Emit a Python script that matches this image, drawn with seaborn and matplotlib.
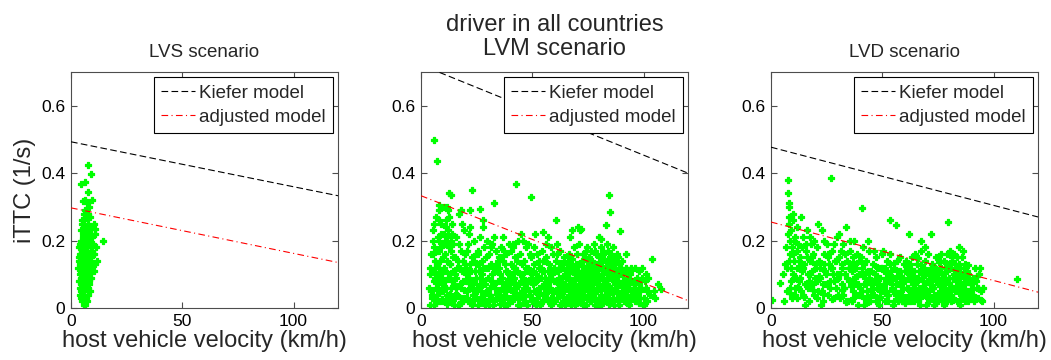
import matplotlib
matplotlib.use("Agg")
import matplotlib.pyplot as plt
import seaborn as sns
import pandas as pd

# ---------------------------------------------------------------- data
speed_ticks = [0, 50, 100]
ittc_ticks = [0, 0.2, 0.4, 0.6]
ittc_tick_labels = ["0", "0.2", "0.4", "0.6"]

titles = ["LVS scenario", "driver in all countries\nLVM scenario", "LVD scenario"]

# model lines: iTTC at host speeds 0 and 120 km/h
model_speed = [0, 120]
lvs_kiefer = [0.493, 0.333]
lvs_adjusted = [0.297, 0.135]
lvm_kiefer = [0.721, 0.400]
lvm_adjusted = [0.333, 0.022]
lvd_kiefer = [0.477, 0.270]
lvd_adjusted = [0.255, 0.047]

# observed (host speed km/h, iTTC 1/s) — LVS scenario
lvs_points = [
    (3.2, .12), (3.5, .08), (3.8, .15), (4.0, .04), (4.1, .19), (4.3, .11), (4.4, .23), (4.6, .07),
    (4.7, .14), (4.9, .02), (5.0, .17), (5.1, .26), (5.2, .09), (5.3, .12), (5.4, .21), (5.5, .05),
    (5.6, .16), (5.7, .28), (5.8, .10), (5.9, .01), (6.0, .19), (6.1, .13), (6.2, .24), (6.3, .07),
    (6.4, .15), (6.5, .03), (6.6, .20), (6.7, .11), (6.8, .27), (6.9, .17), (7.0, .06), (7.1, .22),
    (7.2, .13), (7.3, .09), (7.4, .18), (7.5, .25), (7.6, .04), (7.7, .14), (7.8, .20), (7.9, .10),
    (8.0, .16), (8.2, .23), (8.3, .07), (8.5, .12), (8.6, .19), (8.8, .15), (9.0, .21), (9.2, .09),
    (9.4, .17), (9.6, .24), (9.8, .13), (10.0, .19), (10.3, .11), (10.5, .16), (10.8, .22), (11.2, .18),
    (11.5, .14), (3.6, .18), (3.9, .10), (4.2, .06), (4.5, .16), (4.8, .12), (5.0, .08), (5.3, .03),
    (5.6, .22), (5.9, .14), (6.2, .09), (6.5, .18), (6.8, .12), (7.1, .02), (7.4, .08), (7.7, .23),
    (8.1, .12), (8.4, .27), (8.7, .09), (9.1, .14), (9.5, .19), (4.3, .20), (4.9, .25), (5.4, .15),
    (6.0, .04), (6.6, .14), (7.2, .17), (7.8, .06), (8.9, .11), (9.9, .16), (10.6, .13), (4.6, .10),
    (5.2, .19), (5.8, .06), (6.4, .21), (7.0, .12), (7.6, .28), (8.2, .15), (4.0, .13), (5.1, .13),
    (6.1, .16), (7.3, .15), (8.6, .05), (3.4, .14), (4.4, .09), (5.5, .20), (6.7, .08), (7.9, .19),
    (9.3, .21), (6.3, .29), (5.7, .24), (8.0, .30), (7.0, .31), (6.2, .32), (4.7, .03), (5.9, .02),
    (6.4, .01), (7.7, .424), (8.9, .396), (4.4, .369), (6.5, .373), (7.7, .345), (5.4, .318),
    (9.6, .32), (14.6, .20), (11.0, .235), (10.5, .25),
    (4.5, .13), (5.0, .11), (5.5, .09), (6.0, .07), (6.5, .11), (7.0, .09), (7.5, .13), (8.0, .08),
    (5.2, .16), (6.3, .18), (7.3, .21), (4.8, .20), (5.8, .04), (6.9, .03), (6.1, .10), (5.6, .13),
    (7.8, .16), (8.3, .19), (4.1, .16), (9.0, .17), (6.6, .23), (5.3, .07), (7.1, .06), (4.6, .05),
    (6.0, .26), (7.4, .27), (5.7, .18), (6.8, .15), (8.8, .22), (5.0, .14),
]

# LVM scenario
lvm_points = [
    (3.5, .06), (4.2, .10), (4.8, .03), (4.4, .16), (3.9, .12), (4.6, .05), (4.1, .01),
    (5.2, .23), (5.8, .18), (6.1, .09), (6.4, .14), (6.9, .27), (7.2, .04), (7.6, .21), (8.0, .12),
    (8.3, .17), (8.7, .02), (9.1, .25), (9.4, .07), (9.8, .15), (5.5, .11), (6.7, .06), (7.9, .29),
    (8.5, .10), (9.6, .19), (5.9, .01), (7.1, .13), (8.9, .22), (6.3, .03), (9.2, .05), (7.4, .08),
    (8.1, .26), (5.6, .16), (9.9, .11),
    (10.2, .30), (10.6, .20), (11.0, .08), (11.3, .24), (11.7, .14), (12.1, .03), (12.4, .18),
    (12.8, .27), (13.2, .10), (13.5, .06), (13.9, .22), (14.3, .15), (14.7, .01), (10.4, .12),
    (11.5, .04), (12.0, .29), (12.6, .09), (13.7, .17), (14.1, .25), (14.9, .07), (10.9, .16),
    (11.9, .21), (13.0, .13), (14.5, .19), (10.1, .05), (12.9, .02), (11.2, .26),
    (15.3, .10), (15.8, .21), (16.2, .04), (16.7, .14), (17.1, .28), (17.5, .07), (18.0, .17),
    (18.4, .11), (18.9, .02), (19.3, .23), (19.7, .13), (15.6, .06), (16.9, .19), (17.8, .03),
    (18.6, .25), (19.1, .08), (16.4, .12), (19.9, .16), (15.1, .15), (17.3, .01),
    (20.3, .12), (20.8, .05), (21.2, .19), (21.6, .09), (22.1, .24), (22.5, .02), (22.9, .15),
    (23.4, .07), (23.8, .20), (24.2, .11), (24.7, .03), (20.6, .17), (21.9, .13), (23.1, .01),
    (24.5, .16), (22.7, .06), (21.4, .22), (24.9, .09), (20.1, .08), (23.6, .14),
    (25.2, .06), (25.7, .17), (26.1, .11), (26.6, .21), (27.0, .03), (27.5, .14), (27.9, .08),
    (28.3, .18), (28.8, .01), (29.2, .12), (29.6, .05), (25.9, .13), (26.8, .02), (28.0, .24),
    (29.0, .15), (27.2, .10), (29.8, .20), (26.3, .07), (28.5, .04), (25.4, .16),
    (30.2, .09), (30.7, .16), (31.1, .04), (31.6, .13), (32.0, .19), (32.4, .07), (32.9, .02),
    (33.3, .11), (33.8, .17), (34.2, .05), (34.7, .14), (30.4, .01), (31.9, .10), (33.0, .21),
    (34.4, .08), (31.3, .18), (32.6, .12), (33.6, .03), (34.9, .15), (30.9, .06),
    (35.1, .12), (35.6, .04), (36.0, .18), (36.5, .09), (36.9, .14), (37.4, .01), (37.8, .07),
    (38.3, .16), (38.7, .11), (39.2, .03), (39.6, .19), (35.4, .08), (36.7, .21), (37.6, .13),
    (38.9, .06), (36.2, .02), (39.4, .10), (35.8, .15), (38.1, .05), (37.1, .17),
    (40.2, .06), (40.6, .13), (41.1, .02), (41.5, .18), (42.0, .09), (42.4, .15), (42.9, .04),
    (43.3, .11), (43.8, .20), (44.2, .07), (44.7, .01), (40.9, .10), (41.8, .05), (43.0, .14),
    (44.4, .16), (42.2, .12), (43.6, .03), (40.4, .17), (44.9, .08), (41.3, .19),
    (45.2, .10), (45.7, .03), (46.1, .14), (46.6, .07), (47.0, .18), (47.5, .01), (47.9, .12),
    (48.4, .05), (48.8, .16), (49.3, .09), (49.7, .02), (45.5, .13), (46.3, .06), (47.7, .08),
    (48.6, .11), (49.5, .15), (46.9, .04), (45.9, .20), (48.1, .19), (47.2, .12),
    (50.2, .07), (50.6, .13), (51.1, .02), (51.5, .10), (52.0, .16), (52.4, .05), (52.9, .12),
    (53.3, .01), (53.8, .09), (54.2, .17), (54.7, .04), (50.9, .18), (51.8, .08), (53.0, .14),
    (54.4, .11), (52.2, .03), (53.6, .06), (50.4, .11), (54.9, .14), (51.3, .22),
    (55.2, .11), (55.7, .04), (56.1, .15), (56.6, .08), (57.0, .02), (57.5, .13), (57.9, .06),
    (58.4, .18), (58.8, .10), (59.3, .03), (59.7, .12), (55.5, .07), (56.3, .19), (57.7, .09),
    (58.6, .01), (59.5, .16), (56.9, .05), (55.9, .14), (58.1, .11), (57.2, .21),
    (60.2, .08), (60.6, .14), (61.1, .03), (61.5, .11), (62.0, .06), (62.4, .17), (62.9, .01),
    (63.3, .09), (63.8, .13), (64.2, .05), (64.7, .10), (60.9, .19), (61.8, .07), (63.0, .04),
    (64.4, .15), (62.2, .12), (63.6, .02), (60.4, .05), (64.9, .07), (61.3, .16), (62.7, .09),
    (64.0, .12),
    (65.2, .06), (65.7, .12), (66.1, .02), (66.6, .09), (67.0, .15), (67.5, .04), (67.9, .11),
    (68.4, .07), (68.8, .18), (69.3, .01), (69.7, .13), (65.5, .10), (66.3, .16), (67.7, .08),
    (68.6, .03), (69.5, .05), (66.9, .21), (65.9, .14), (68.1, .12), (67.2, .06), (69.0, .09),
    (66.5, .04),
    (70.2, .09), (70.6, .04), (71.1, .13), (71.5, .07), (72.0, .02), (72.4, .11), (72.9, .16),
    (73.3, .06), (73.8, .10), (74.2, .01), (74.7, .14), (70.9, .19), (71.8, .05), (73.0, .08),
    (74.4, .12), (72.2, .03), (73.6, .15), (70.4, .11), (74.9, .06), (71.3, .23), (72.7, .09),
    (73.4, .04), (70.8, .07), (74.0, .17),
    (75.2, .05), (75.7, .11), (76.1, .08), (76.6, .02), (77.0, .14), (77.5, .06), (77.9, .10),
    (78.4, .03), (78.8, .16), (79.3, .08), (79.7, .12), (75.5, .15), (76.3, .04), (77.7, .19),
    (78.6, .09), (79.5, .01), (76.9, .12), (75.9, .07), (78.1, .13), (77.2, .03), (79.0, .05),
    (76.5, .17), (78.3, .11), (75.3, .09),
    (80.2, .07), (80.6, .13), (81.1, .04), (81.5, .10), (82.0, .16), (82.4, .02), (82.9, .08),
    (83.3, .12), (83.8, .05), (84.2, .17), (84.7, .09), (80.9, .18), (81.8, .06), (83.0, .14),
    (84.4, .03), (82.2, .11), (83.6, .07), (80.4, .01), (84.9, .12), (81.3, .15), (82.7, .04),
    (83.4, .19), (81.6, .09), (84.1, .06),
    (85.2, .06), (85.7, .11), (86.1, .03), (86.6, .08), (87.0, .14), (87.5, .05), (87.9, .10),
    (88.4, .02), (88.8, .12), (89.3, .07), (89.7, .04), (85.5, .16), (86.3, .13), (87.7, .08),
    (88.6, .15), (89.5, .10), (86.9, .01), (85.9, .09), (88.1, .05), (87.2, .11), (89.0, .13),
    (86.5, .18),
    (90.2, .05), (90.7, .10), (91.1, .02), (91.6, .08), (92.0, .12), (92.5, .04), (92.9, .07),
    (93.4, .01), (93.8, .10), (94.3, .05), (94.7, .08), (90.5, .14), (91.9, .06), (93.1, .03),
    (94.1, .11), (92.3, .16),
    (95.2, .03), (95.8, .07), (96.3, .02), (96.9, .09), (97.4, .05), (97.9, .11), (98.5, .03),
    (99.0, .06), (99.6, .01), (96.0, .12), (98.2, .08), (99.4, .12),
    (100.3, .03), (100.9, .06), (101.6, .02), (102.2, .09), (102.8, .04), (103.6, .146),
    (104.5, .05), (105.3, .03), (106.5, .07), (107.7, .055), (101.2, .10),
    (6.0, .499), (7.4, .435), (12.8, .342), (13.4, .336), (23.1, .349), (32.9, .31), (42.5, .367),
    (49.5, .329), (60.7, .262), (84.5, .335), (85.0, .286), (83.0, .245), (89.5, .229),
    (26.3, .293), (22.1, .29), (8.3, .306), (11.5, .30), (18.0, .29), (70.5, .24), (72.0, .235),
    (68.0, .23), (80.0, .21), (81.0, .205), (55.0, .225), (45.0, .22), (28.0, .26),
]

# LVM scenario, crowded low-iTTC band
lvm_points_low = [
    (5.0, .04), (5.7, .08), (6.2, .12), (6.8, .02), (7.3, .10), (7.8, .06), (8.4, .14), (8.9, .05),
    (9.5, .09), (10.0, .02), (10.7, .11), (11.4, .06), (12.2, .09), (12.9, .13), (13.6, .03),
    (14.4, .11), (15.2, .04), (15.9, .09), (16.6, .01), (17.4, .12), (18.1, .06), (18.8, .14),
    (19.5, .03),
    (20.4, .10), (21.1, .02), (21.8, .06), (22.6, .11), (23.3, .04), (24.0, .08), (24.8, .13),
    (25.5, .01), (26.3, .09), (27.1, .05), (27.8, .12), (28.6, .07), (29.4, .02), (30.1, .12),
    (30.9, .04), (31.7, .08), (32.5, .01), (33.2, .06), (34.0, .13), (34.8, .03), (35.6, .10),
    (36.4, .06), (37.2, .04), (38.0, .11), (38.8, .01), (39.6, .07),
    (40.4, .03), (41.2, .08), (42.0, .12), (42.8, .06), (43.6, .01), (44.4, .10), (45.2, .05),
    (46.0, .09), (46.8, .02), (47.6, .11), (48.4, .08), (49.2, .04), (50.0, .10), (50.8, .05),
    (51.6, .01), (52.4, .09), (53.2, .06), (54.0, .12), (54.8, .02), (55.6, .09), (56.4, .03),
    (57.2, .07), (58.0, .12), (58.8, .05), (59.6, .08),
    (60.3, .02), (60.9, .11), (61.5, .06), (62.1, .09), (62.7, .04), (63.3, .12), (63.9, .07),
    (64.5, .01), (65.1, .09), (65.7, .03), (66.3, .07), (66.9, .11), (67.5, .01), (68.1, .08),
    (68.7, .05), (69.3, .10), (69.9, .03), (70.5, .13), (71.1, .06), (71.7, .10), (72.3, .05),
    (72.9, .01), (73.5, .12), (74.1, .07), (74.7, .03), (75.3, .12), (75.9, .02), (76.5, .10),
    (77.1, .06), (77.7, .13), (78.3, .01), (78.9, .07), (79.5, .10), (80.1, .03), (80.7, .09),
    (81.3, .06), (81.9, .12), (82.5, .08), (83.1, .02), (83.7, .10), (84.3, .05), (84.9, .15),
    (85.5, .02), (86.1, .09), (86.7, .05), (87.3, .12), (87.9, .03), (88.5, .08), (89.1, .01),
    (89.7, .10), (90.3, .07), (90.9, .03), (91.5, .11), (92.1, .05), (92.7, .09), (93.3, .06),
    (93.9, .02), (94.5, .12), (95.1, .08), (95.7, .04), (96.4, .06), (97.1, .02), (97.8, .07),
    (98.6, .05), (99.3, .09), (100.0, .01), (100.7, .08), (101.5, .05),
    (56.0, .05), (58.5, .03), (61.0, .08), (63.5, .05), (66.0, .11), (68.5, .02), (71.0, .09),
    (73.0, .06), (75.0, .09), (77.0, .04), (79.0, .13), (81.0, .01), (83.0, .07), (85.0, .11),
    (87.0, .07), (89.0, .04), (91.0, .08), (62.5, .01), (67.0, .13), (72.5, .14), (76.0, .13),
    (80.0, .15), (82.0, .17), (84.0, .14), (86.0, .15), (78.0, .17), (74.5, .18), (88.0, .16),
    (90.0, .12), (70.0, .16),
    (5.3, .20), (6.0, .25), (7.0, .17), (8.2, .20), (9.0, .18), (10.3, .22), (11.1, .19),
    (12.3, .23), (13.3, .20), (14.0, .08),
    (5.6, .035), (6.9, .015), (8.1, .047), (9.3, .028), (10.6, .058), (11.8, .012), (13.1, .041),
    (14.3, .024), (15.5, .066), (16.8, .037), (18.0, .018), (19.2, .052), (20.5, .031), (21.7, .074),
    (22.9, .014), (24.2, .045), (25.4, .027), (26.6, .063), (27.9, .038), (29.1, .016), (30.3, .054),
    (31.6, .029), (32.8, .071), (34.0, .043), (35.3, .013), (36.5, .057), (37.7, .033), (39.0, .086),
    (40.2, .021), (41.4, .048), (42.7, .067), (43.9, .026), (45.1, .044), (46.4, .015), (47.6, .059),
    (48.8, .036), (50.1, .023), (51.3, .077), (52.5, .042), (53.8, .017), (55.0, .064), (56.2, .031),
    (57.5, .053), (58.7, .087), (59.9, .024), (61.2, .046), (62.4, .068), (63.6, .033), (64.9, .014),
    (66.1, .055), (67.3, .082), (68.6, .039), (69.8, .062), (71.0, .018), (72.3, .047), (73.5, .091),
    (74.7, .028), (76.0, .066), (77.2, .043), (78.4, .085), (79.7, .022), (80.9, .057), (82.1, .034),
    (83.4, .072), (84.6, .011), (85.8, .048), (87.1, .094), (88.3, .062), (89.5, .027), (90.8, .045),
    (92.0, .019), (93.2, .058), (94.5, .036), (95.7, .071), (97.0, .041), (98.2, .016),
    (57.9, .105), (61.8, .115), (65.4, .098), (69.2, .108), (72.8, .124), (76.6, .103),
    (80.4, .118), (84.2, .101), (87.9, .109), (75.4, .138), (81.7, .142), (85.3, .128),
    (63.1, .134), (67.8, .145), (70.4, .128),
]

# LVD scenario
lvd_points = [
    (0.6, .024), (4.2, .075), (5.9, .02), (6.5, .13), (6.8, .18), (7.0, .05),
    (7.5, .22), (7.8, .379), (7.7, .342), (8.0, .31), (8.2, .30), (8.3, .27), (7.9, .25), (8.4, .20),
    (8.6, .16), (8.8, .12), (9.0, .08), (9.2, .23), (9.5, .18), (9.8, .10), (10.1, .26), (10.4, .14),
    (10.7, .04), (11.0, .21), (11.3, .09), (11.6, .17), (11.9, .12), (8.1, .14), (9.3, .03),
    (10.9, .06), (9.7, .28), (11.5, .24),
    (12.2, .19), (12.6, .08), (13.0, .15), (13.4, .27), (13.8, .11), (14.2, .04), (14.6, .21),
    (15.0, .13), (15.4, .07), (15.8, .17), (16.2, .23), (16.6, .10), (17.0, .02), (17.4, .14),
    (17.8, .06), (18.2, .19), (18.6, .11), (19.0, .16), (19.4, .04), (19.8, .09), (12.9, .12),
    (14.0, .18), (15.2, .01), (16.4, .15), (17.6, .21), (18.8, .07), (13.6, .05), (19.6, .13),
    (20.2, .12), (20.7, .18), (21.2, .05), (21.7, .14), (22.2, .09), (22.7, .23), (23.2, .02),
    (23.7, .16), (24.2, .11), (24.7, .07), (25.2, .19), (25.7, .04), (26.2, .13), (26.7, .08),
    (27.0, .386), (27.2, .17), (27.7, .10), (28.2, .03), (28.7, .14), (29.2, .06), (29.7, .21),
    (21.0, .25), (22.5, .01), (24.0, .20), (25.5, .15), (26.9, .12), (28.5, .19), (29.5, .10),
    (23.5, .07), (20.5, .03),
    (30.2, .09), (30.7, .15), (31.2, .03), (31.7, .12), (32.2, .19), (32.7, .06), (33.2, .10),
    (33.7, .24), (34.2, .14), (34.7, .02), (35.2, .08), (35.7, .17), (36.2, .11), (36.7, .05),
    (37.2, .20), (37.7, .13), (38.2, .07), (38.7, .16), (39.2, .01), (39.7, .10), (30.5, .22),
    (31.9, .07), (33.4, .16), (34.9, .12), (36.4, .02), (37.9, .09), (39.4, .14), (32.4, .04),
    (35.4, .20), (38.4, .04), (36.9, .15), (31.4, .17),
    (40.2, .06), (40.7, .298), (40.9, .12), (41.2, .18), (41.7, .03), (42.2, .09), (42.7, .14),
    (43.2, .05), (43.7, .11), (44.2, .17), (44.7, .02), (45.2, .08), (45.7, .13), (46.2, .04),
    (46.7, .10), (47.2, .15), (47.7, .06), (48.2, .12), (48.7, .01), (49.2, .09), (49.7, .16),
    (40.5, .15), (42.0, .01), (43.4, .20), (44.9, .07), (46.4, .17), (47.9, .03), (49.4, .12),
    (41.4, .10), (45.0, .05), (48.4, .07), (43.0, .08),
    (50.2, .05), (50.7, .11), (51.2, .02), (51.7, .08), (52.2, .14), (52.7, .04), (53.2, .10),
    (53.3, .262), (53.7, .16), (54.2, .07), (54.7, .01), (55.2, .12), (55.7, .05), (56.0, .246),
    (56.2, .09), (56.7, .14), (57.2, .03), (57.7, .07), (58.2, .11), (58.7, .02), (59.2, .06),
    (59.7, .13), (50.4, .17), (51.9, .05), (53.4, .13), (54.9, .09), (56.4, .04), (57.9, .15),
    (59.4, .09), (52.4, .08), (55.4, .02), (58.4, .05), (51.4, .12), (57.0, .11),
    (60.2, .08), (60.7, .03), (61.2, .12), (61.7, .06), (62.0, .22), (62.2, .10), (62.7, .02),
    (63.2, .15), (63.7, .07), (64.2, .11), (64.7, .04), (65.2, .09), (65.7, .13), (66.2, .02),
    (66.7, .06), (67.2, .17), (67.7, .10), (68.2, .04), (68.7, .12), (69.2, .07), (69.7, .01),
    (60.5, .14), (61.9, .02), (63.4, .05), (64.9, .16), (66.4, .11), (67.9, .06), (69.4, .14),
    (62.4, .13), (65.4, .05), (68.4, .08), (61.4, .09), (63.9, .09), (66.9, .03), (69.0, .18),
    (64.4, .02), (67.4, .20),
    (70.2, .05), (70.7, .11), (71.2, .03), (71.7, .08), (72.1, .22), (72.2, .13), (72.7, .06),
    (73.2, .01), (73.7, .09), (74.2, .15), (74.7, .04), (75.2, .10), (75.7, .07), (76.2, .12),
    (76.7, .02), (77.2, .06), (77.7, .14), (78.2, .09), (78.7, .03), (79.2, .11), (79.6, .254),
    (79.7, .05), (70.5, .16), (71.9, .12), (73.4, .04), (74.9, .08), (76.4, .16), (77.9, .01),
    (79.4, .13), (72.4, .10), (75.4, .03), (78.4, .06), (71.4, .07), (73.9, .12), (76.9, .09),
    (79.0, .08), (74.4, .11), (77.4, .04), (70.9, .02), (75.9, .14), (78.9, .16),
    (80.2, .07), (80.7, .12), (81.2, .03), (81.7, .09), (82.2, .16), (82.7, .05), (83.2, .11),
    (83.7, .02), (84.2, .08), (84.7, .13), (85.2, .04), (85.7, .10), (86.2, .06), (86.7, .12),
    (87.2, .02), (87.7, .08), (88.2, .05), (88.7, .10), (89.2, .03), (89.7, .07), (80.5, .17),
    (81.9, .06), (83.4, .15), (84.9, .01), (86.4, .17), (87.9, .11), (82.4, .10), (85.4, .07),
    (88.4, .02), (81.4, .14), (83.9, .06), (86.9, .04), (84.4, .18), (80.9, .04), (82.9, .13),
    (85.9, .15), (87.4, .13),
    (90.2, .04), (90.7, .09), (91.3, .02), (91.9, .12), (92.5, .06), (93.1, .03), (93.7, .10),
    (94.3, .05), (95.0, .02), (95.4, .06), (92.0, .08), (94.0, .12),
    (110.7, .086),
]

# LVD scenario, crowded low-iTTC band
lvd_points_low = [
    (5.5, .10), (7.2, .12), (8.5, .06), (9.8, .16), (10.5, .20), (11.8, .03), (12.5, .14),
    (13.2, .09), (14.4, .12), (15.6, .19), (16.8, .06), (17.5, .10), (18.5, .15), (19.5, .20),
    (20.8, .08), (21.8, .12), (22.8, .05), (23.8, .13), (24.8, .10), (25.8, .16), (26.5, .06),
    (27.5, .12), (28.5, .08), (29.0, .14), (30.0, .04), (31.0, .10), (32.0, .13), (33.0, .06),
    (34.0, .09), (35.0, .12), (36.0, .08), (37.0, .03), (38.0, .12), (39.0, .07), (40.0, .10),
    (41.0, .05), (42.0, .13), (43.0, .03), (44.0, .09), (45.0, .11), (46.0, .07), (47.0, .02),
    (48.0, .09), (49.0, .05), (50.0, .12), (51.0, .07), (52.0, .04), (53.0, .08), (54.0, .11),
    (55.0, .05), (56.0, .07), (57.0, .02), (58.0, .09), (59.0, .04), (60.0, .11), (61.0, .06),
    (62.0, .04), (63.0, .08), (64.0, .06), (65.0, .03), (66.0, .09), (67.0, .05), (68.0, .10),
    (69.0, .04), (70.0, .08), (71.0, .05), (72.0, .09), (73.0, .06), (74.0, .03), (75.0, .07),
    (76.0, .05), (77.0, .10), (78.0, .04), (79.0, .02), (80.0, .09), (81.0, .06), (82.0, .03),
    (83.0, .08), (84.0, .05), (85.0, .12), (86.0, .03), (87.0, .07), (88.0, .08), (89.0, .05),
    (90.0, .07), (91.0, .04), (92.0, .03), (93.0, .06), (60.8, .02), (62.8, .10), (64.8, .07),
    (66.8, .01), (68.8, .06), (70.8, .10), (72.8, .03), (74.8, .11), (76.8, .07), (78.8, .05),
    (80.8, .02), (82.8, .06), (84.8, .09), (86.8, .05), (88.8, .03), (45.5, .04), (48.5, .03),
    (51.5, .09), (54.5, .06), (57.5, .10), (59.5, .02), (42.5, .07), (39.5, .04), (36.5, .13),
    (33.5, .02),
    (8.7, .045), (10.2, .088), (12.1, .062), (14.8, .034), (17.2, .081), (19.1, .052), (21.5, .096),
    (23.4, .043), (25.1, .072), (27.4, .027), (29.6, .085), (31.8, .052), (33.9, .018), (35.8, .064),
    (37.6, .093), (39.8, .038), (41.6, .071), (43.5, .017), (45.4, .056), (47.3, .087), (49.1, .032),
    (50.9, .065), (52.8, .022), (54.6, .091), (56.5, .044), (58.3, .073), (60.1, .016), (61.6, .057),
    (63.5, .028), (65.3, .078), (67.2, .041), (69.1, .097), (70.6, .031), (72.5, .068), (74.3, .015),
    (76.1, .083), (77.9, .046), (79.8, .074), (81.6, .024), (83.5, .104), (85.3, .054), (87.2, .031),
    (89.1, .086), (90.6, .055), (92.8, .094), (94.6, .024), (62.9, .115), (67.6, .128), (73.4, .122),
    (78.2, .118), (84.1, .126), (86.6, .094), (88.6, .128), (65.9, .148), (75.6, .136), (81.3, .152),
    (55.5, .134), (47.8, .122), (42.8, .108), (52.5, .104),
]

# ---------------------------------------------------------------- style
sns.set_style("white")
plt.rcParams["font.family"] = ["Liberation Sans", "DejaVu Sans"]

GREEN = "#00ff00"
FRAME = "0.3"

fig = plt.figure(figsize=(10.51, 3.6), dpi=100)

panels = [
    (lvs_points, lvs_kiefer, lvs_adjusted),
    (lvm_points + lvm_points_low, lvm_kiefer, lvm_adjusted),
    (lvd_points + lvd_points_low, lvd_kiefer, lvd_adjusted),
]
lefts = [71, 421, 771]

for i, (pts, kiefer, adjusted) in enumerate(panels):
    ax = fig.add_axes([lefts[i] / 1051, 52 / 360, 267 / 1051, 236 / 360])
    obs = pd.DataFrame(pts, columns=["speed", "ittc"])
    sns.scatterplot(data=obs, x="speed", y="ittc", ax=ax, color=GREEN, marker="P",
                    s=24, linewidth=0.9, edgecolor=GREEN, zorder=2)
    sns.lineplot(x=model_speed, y=kiefer, ax=ax, color="black", lw=0.8,
                 linestyle=(0, (6, 3)), label="Kiefer model", zorder=3)
    sns.lineplot(x=model_speed, y=adjusted, ax=ax, color="red", lw=0.8,
                 linestyle=(0, (6, 3, 1, 3)), label="adjusted model", zorder=3)

    ax.set_xlim(0, 120)
    ax.set_ylim(0, 0.7)
    ax.set_xticks(speed_ticks)
    ax.set_yticks(ittc_ticks)
    ax.set_yticklabels(ittc_tick_labels)
    ax.tick_params(direction="in", length=4, width=0.8, colors=FRAME,
                   labelcolor="black", labelsize=12.5, top=True, right=True,
                   left=True, bottom=True, pad=4)
    for sp in ax.spines.values():
        sp.set_color(FRAME)
        sp.set_linewidth(0.8)

    ax.set_xlabel("host vehicle velocity (km/h)", fontsize=17, labelpad=1)
    if i == 0:
        ax.set_ylabel("iTTC (1/s)", fontsize=17, labelpad=4)
    else:
        ax.set_ylabel("")

    if i == 1:
        ax.set_title(titles[i], fontsize=17, pad=12, linespacing=1.15)
    else:
        ax.set_title(titles[i], fontsize=13.5, pad=11)

    leg = ax.legend(loc="upper right", fontsize=13.5, frameon=True, fancybox=False,
                    edgecolor="black", framealpha=1, borderaxespad=0.28,
                    borderpad=0.4, labelspacing=0.35, handlelength=1.8,
                    handletextpad=0.2)
    leg.get_frame().set_linewidth(0.8)

fig.savefig("out.png", dpi=100)
